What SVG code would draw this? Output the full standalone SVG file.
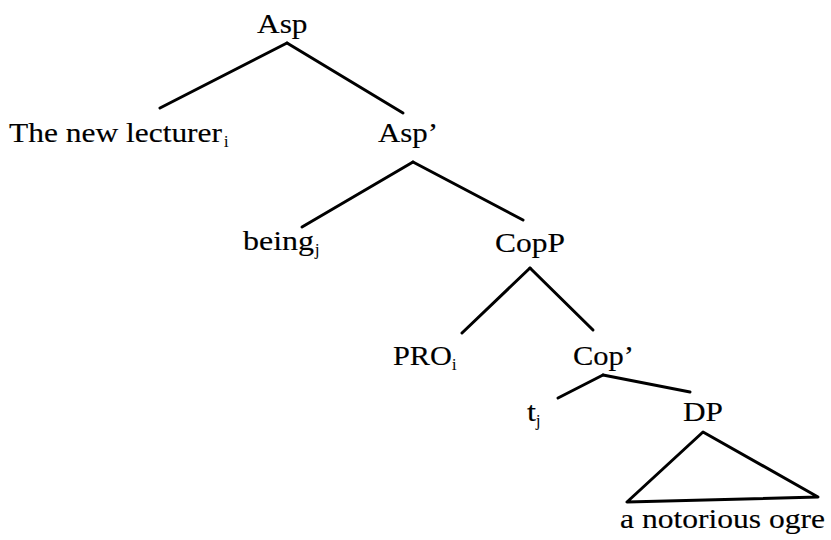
<svg xmlns="http://www.w3.org/2000/svg" width="831" height="540" viewBox="0 0 831 540">
<style>
text{font-family:'Liberation Serif','Times New Roman',serif;font-size:28px;fill:#000;stroke:#000;stroke-width:0.15}
.sub{font-size:16px;stroke-width:0.1}
.edge{stroke:#000;stroke-width:3;stroke-linecap:round;fill:none;stroke-linejoin:round}
</style>
<rect width="831" height="540" fill="#fff"/>
<g id="connectors">
<line class="edge" x1="287" y1="43" x2="160" y2="108"/>
<line class="edge" x1="287" y1="43" x2="403" y2="113"/>
<line class="edge" x1="413" y1="162" x2="302" y2="227"/>
<line class="edge" x1="413" y1="162" x2="523" y2="220"/>
<line class="edge" x1="530" y1="268" x2="462" y2="333"/>
<line class="edge" x1="530" y1="268" x2="593" y2="330"/>
<line class="edge" x1="603" y1="375" x2="558" y2="398"/>
<line class="edge" x1="603" y1="375" x2="690" y2="392"/>
<polygon class="edge" points="703,432 627,502 818,497"/>
</g>
<g id="n-asp"><text x="257" y="33" textLength="50.5" lengthAdjust="spacingAndGlyphs">Asp</text></g>
<g id="n-lecturer"><text x="9" y="142" textLength="213" lengthAdjust="spacingAndGlyphs">The new lecturer</text><text class="sub" x="224" y="147">i</text></g>
<g id="n-aspbar"><text x="378" y="142" textLength="60" lengthAdjust="spacingAndGlyphs">Asp’</text></g>
<g id="n-being"><text x="243" y="250" textLength="71" lengthAdjust="spacingAndGlyphs">being</text><text class="sub" x="315" y="255">j</text></g>
<g id="n-copp"><text x="495" y="252" textLength="70" lengthAdjust="spacingAndGlyphs">CopP</text></g>
<g id="n-pro"><text x="393" y="365" textLength="59" lengthAdjust="spacingAndGlyphs">PRO</text><text class="sub" x="452" y="370">i</text></g>
<g id="n-copbar"><text x="573" y="365" textLength="61" lengthAdjust="spacingAndGlyphs">Cop’</text></g>
<g id="n-t"><text x="527" y="421" textLength="9" lengthAdjust="spacingAndGlyphs">t</text><text class="sub" x="536" y="426">j</text></g>
<g id="n-dp"><text x="683" y="421" textLength="40" lengthAdjust="spacingAndGlyphs">DP</text></g>
<g id="n-ogre"><text x="620" y="528" textLength="205" lengthAdjust="spacingAndGlyphs">a notorious ogre</text></g>
</svg>
